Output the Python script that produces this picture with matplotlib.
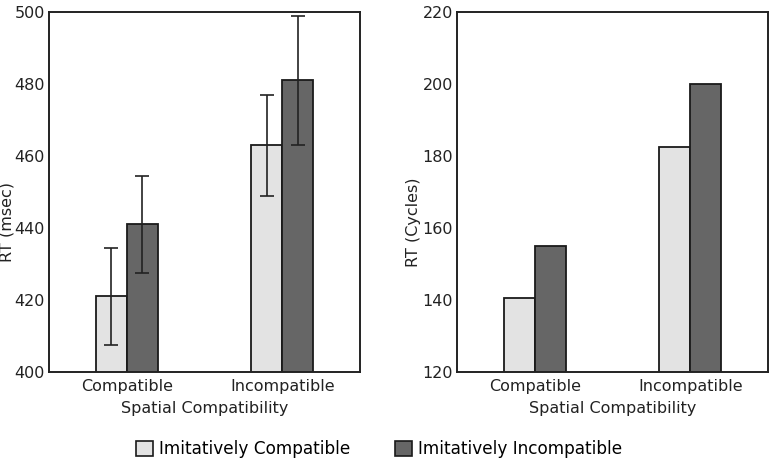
import numpy as np
import matplotlib
matplotlib.use("Agg")
from matplotlib import pyplot as plt
from matplotlib.patches import Patch

groups = ["Compatible", "Incompatible"]
series = ["Imitatively Compatible", "Imitatively Incompatible"]

# left panel: RT in msec, with error bars
rt_msec = [[421, 463], [441, 481]]
rt_msec_err = [[13.5, 14.0], [13.5, 18.0]]
# right panel: RT in cycles
rt_cycles = [[140.5, 182.5], [155, 200]]

colors = ["#e3e3e3", "#666666"]
edge = "#1a1a1a"

fig = plt.figure(figsize=(7.75, 4.62), dpi=100)
ax1 = fig.add_axes([49/775, 90/462, 311/775, 360/462])
ax2 = fig.add_axes([457/775, 90/462, 311/775, 360/462])

x = np.arange(len(groups))
w = 0.2


def draw(ax, vals, errs, ylim, yticks):
    for i, v in enumerate(vals):
        kw = {}
        if errs is not None:
            kw = dict(yerr=errs[i], capsize=5,
                      error_kw=dict(ecolor="#222222", elinewidth=1.2, capthick=1.2))
        ax.bar(x + (i - 0.5) * w, v, w, color=colors[i], edgecolor=edge,
               linewidth=1.3, **kw)
    ax.set_xlim(-0.5, 1.5)
    ax.set_ylim(*ylim)
    ax.set_yticks(yticks)
    ax.set_xticks(x)
    ax.set_xticklabels(groups)
    ax.tick_params(axis="both", length=0, labelsize=11.5, colors="#222222")
    ax.tick_params(axis="y", pad=3)
    ax.tick_params(axis="x", pad=5)
    ax.set_xlabel("Spatial Compatibility", fontsize=11.5, color="#222222", labelpad=5)
    for s in ax.spines.values():
        s.set_linewidth(1.4)
        s.set_color("#222222")


draw(ax1, rt_msec, rt_msec_err, (400, 500), np.arange(400, 501, 20))
draw(ax2, rt_cycles, None, (120, 220), np.arange(120, 221, 20))

fig.text(7.5/775, 1 - 222/462, "RT (msec)", rotation=90, ha="center", va="center",
         fontsize=11.5, color="#222222")
fig.text(413/775, 1 - 222/462, "RT (Cycles)", rotation=90, ha="center", va="center",
         fontsize=11.5, color="#222222")

handles = [Patch(facecolor=c, edgecolor=edge, linewidth=1.2) for c in colors]
fig.legend(handles, series, loc="center", bbox_to_anchor=(379/775, 1 - 449/462),
           ncol=2, frameon=False, fontsize=12.2, handlelength=1.0, handleheight=1.0,
           handletextpad=0.4, columnspacing=2.6)

fig.savefig("out.png", dpi=100)
